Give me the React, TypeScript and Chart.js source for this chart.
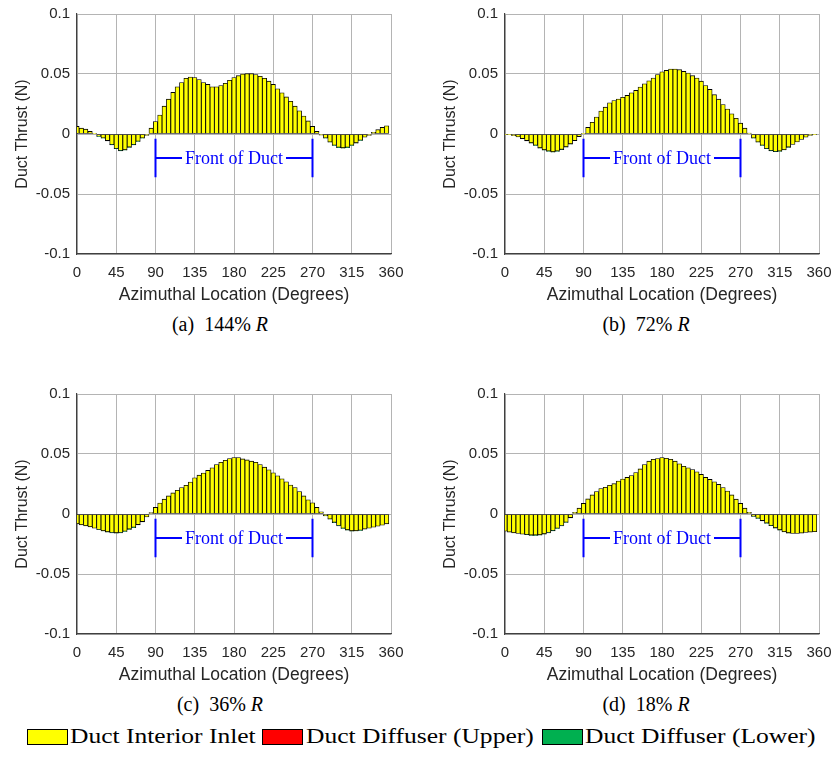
import React, { useEffect, useRef } from 'react';
import { Chart, registerables } from 'chart.js';

Chart.register(...registerables);

// ---------------- data ----------------
const ANGLES = [
  0, 5, 10, 15, 20, 25, 30, 35, 40, 45, 50, 55, 60, 65, 70, 75, 80, 85,
  90, 95, 100, 105, 110, 115, 120, 125, 130, 135, 140, 145, 150, 155, 160, 165, 170, 175,
  180, 185, 190, 195, 200, 205, 210, 215, 220, 225, 230, 235, 240, 245, 250, 255, 260, 265,
  270, 275, 280, 285, 290, 295, 300, 305, 310, 315, 320, 325, 330, 335, 340, 345, 350, 355,
];

const X_TICKS = [0, 45, 90, 135, 180, 225, 270, 315, 360];
const Y_TICKS = [-0.1, -0.05, 0, 0.05, 0.1];

// (a) 144% R
const INLET_144 = [
  0.0063, 0.0049, 0.004, 0.0022, 0.0005, -0.0019, -0.0033, -0.0055, -0.0087, -0.012, -0.0137, -0.0131, -0.0109, -0.0087, -0.006, -0.0033, -0.0011, 0.0049,
  0.0104, 0.0158, 0.0232, 0.029, 0.0347, 0.0393, 0.0429, 0.0464, 0.0475, 0.047, 0.0454, 0.0429, 0.0413, 0.0393, 0.0393, 0.0404, 0.0423, 0.0448,
  0.047, 0.0486, 0.05, 0.0503, 0.0503, 0.0495, 0.0481, 0.0464, 0.044, 0.0413, 0.0377, 0.0344, 0.0309, 0.0273, 0.0232, 0.0194, 0.015, 0.0109,
  0.0063, 0.0022, -0.001, -0.0033, -0.0066, -0.0093, -0.011, -0.0115, -0.011, -0.0093, -0.0074, -0.0052, -0.0027, -0.0011, 0.0014, 0.0036, 0.0055, 0.0068,
];

// (b) 72% R
const INLET_72 = [
  -0.0003, -0.0005, -0.0014, -0.0025, -0.0038, -0.0055, -0.0074, -0.0093, -0.0115, -0.0131, -0.0142, -0.0148, -0.0142, -0.0128, -0.0107, -0.0082, -0.0055, -0.0022,
  0.0003, 0.0055, 0.0098, 0.0142, 0.0191, 0.0224, 0.026, 0.0279, 0.0292, 0.0306, 0.0322, 0.0344, 0.0363, 0.0391, 0.0418, 0.0443, 0.0467, 0.0495,
  0.0519, 0.053, 0.0541, 0.0541, 0.0536, 0.0522, 0.0508, 0.0486, 0.0467, 0.044, 0.0404, 0.0372, 0.0328, 0.029, 0.0246, 0.0208, 0.0169, 0.0131,
  0.009, 0.0049, 0.0008, -0.0033, -0.0066, -0.0093, -0.012, -0.0137, -0.0145, -0.0142, -0.0131, -0.0109, -0.0087, -0.0066, -0.0046, -0.0027, -0.0011, -0.0003,
];

// (c) 36% R
const INLET_36 = [
  -0.0082, -0.009, -0.0099, -0.0107, -0.0118, -0.0129, -0.014, -0.0148, -0.0154, -0.0157, -0.0154, -0.0143, -0.0126, -0.011, -0.0088, -0.0063, -0.0025, 0.0012,
  0.0055, 0.0091, 0.0124, 0.0151, 0.0176, 0.0198, 0.022, 0.0239, 0.0266, 0.0302, 0.0324, 0.0341, 0.0363, 0.0385, 0.0412, 0.0431, 0.0448, 0.0462,
  0.047, 0.047, 0.0459, 0.0451, 0.044, 0.0431, 0.0412, 0.039, 0.0368, 0.0343, 0.0319, 0.0294, 0.0269, 0.0242, 0.022, 0.0187, 0.0151, 0.0118,
  0.0093, 0.0055, 0.0019, -0.0014, -0.0041, -0.0069, -0.0096, -0.0118, -0.0132, -0.014, -0.014, -0.0135, -0.0126, -0.0118, -0.011, -0.0102, -0.0093, -0.0082,
];

// (d) 18% R
const INLET_18 = [
  -0.0143, -0.0151, -0.0157, -0.0162, -0.0168, -0.017, -0.0176, -0.0176, -0.0173, -0.0165, -0.0154, -0.0137, -0.0118, -0.0096, -0.0068, -0.003, 0.0014, 0.0049,
  0.0088, 0.0126, 0.0159, 0.0187, 0.0212, 0.0223, 0.0239, 0.0253, 0.0275, 0.0291, 0.0305, 0.0321, 0.0346, 0.0376, 0.0412, 0.044, 0.0456, 0.0462,
  0.047, 0.0464, 0.0456, 0.044, 0.0418, 0.0398, 0.0385, 0.0371, 0.0352, 0.033, 0.0305, 0.0288, 0.0269, 0.0247, 0.022, 0.0192, 0.0159, 0.0124,
  0.0088, 0.0049, 0.0014, -0.0018, -0.0035, -0.0055, -0.0075, -0.0095, -0.0115, -0.0132, -0.0148, -0.0157, -0.0162, -0.0162, -0.0159, -0.0154, -0.0151, -0.0148,
];

// diffuser contributions (barely visible in the figure)
const DIFFUSER_UPPER = [
  0, 0, 0, 0, 0, 0, 0, 0, 0, 0, 0, 0, 0, 0, 0, 0, 0, 0,
  0, 0, 0, 0, 0, 0, 0, 0, 0, 0, 0, 0, 0, 0, 0, 0, 0, 0,
  0, 0, 0, 0, 0, 0, 0, 0, 0, 0, 0, 0, 0, 0, 0, 0, 0, 0,
  0, 0, 0, 0, 0, 0, 0, 0, 0, 0, 0, 0, 0, 0, 0, 0, 0, 0,
];
const DIFFUSER_LOWER = [
  0, 0, 0, 0, 0, -0.0002, -0.0002, -0.0003, -0.0003, -0.0003, -0.0003, -0.0003, -0.0003, -0.0003, -0.0002, -0.0002, 0, 0,
  0, 0, 0, 0, 0, 0, 0, 0, 0, 0, 0, 0, 0, 0, 0, 0, 0, 0,
  0, 0, 0, 0, 0, 0, 0, 0, 0, 0, 0, 0, 0, 0, 0, 0, 0, 0,
  0, 0, 0, -0.0002, -0.0002, -0.0003, -0.0003, -0.0003, -0.0003, -0.0003, -0.0002, -0.0002, 0, 0, 0, 0, 0, 0,
];

const SERIES_LABELS = ['Duct Interior Inlet', 'Duct Diffuser (Upper)', 'Duct Diffuser (Lower)'];
const SERIES_COLORS = ['#ffff00', '#ff0000', '#00b050'];

const FRONT_LABEL = 'Front of Duct';
const FRONT_START = 90;
const FRONT_END = 270;
const FRONT_Y_TOP = -0.004;
const FRONT_Y_BOTTOM = -0.036;
const FRONT_Y_MID = -0.02;

const X_TITLE = 'Azimuthal Location (Degrees)';
const Y_TITLE = 'Duct Thrust (N)';

// ---------------- styling ----------------
const SANS = '"Liberation Sans", Arial, Helvetica, sans-serif';
const SERIF = '"Liberation Serif", "Times New Roman", Times, serif';
const AXIS_TEXT = '#262626';
const GRID = '#b4b4b4';

const frontPlugin = {
  id: 'frontOfDuct',
  afterDatasetsDraw(chart: any) {
    const { ctx, scales } = chart;
    const xs = scales.x;
    const ys = scales.y;
    const x1 = xs.getPixelForValue(FRONT_START);
    const x2 = xs.getPixelForValue(FRONT_END);
    const yt = ys.getPixelForValue(FRONT_Y_TOP);
    const yb = ys.getPixelForValue(FRONT_Y_BOTTOM);
    const ym = ys.getPixelForValue(FRONT_Y_MID);
    ctx.save();
    ctx.strokeStyle = '#0000ff';
    ctx.fillStyle = '#0000ff';
    ctx.lineWidth = 2;
    ctx.font = `18px ${SERIF}`;
    const tw = ctx.measureText(FRONT_LABEL).width;
    const cx = (x1 + x2) / 2;
    ctx.beginPath();
    ctx.moveTo(x1, yt);
    ctx.lineTo(x1, yb);
    ctx.moveTo(x2, yt);
    ctx.lineTo(x2, yb);
    ctx.moveTo(x1, ym);
    ctx.lineTo(cx - tw / 2 - 3, ym);
    ctx.moveTo(cx + tw / 2 + 3, ym);
    ctx.lineTo(x2, ym);
    ctx.stroke();
    ctx.textAlign = 'center';
    ctx.textBaseline = 'middle';
    ctx.fillText(FRONT_LABEL, cx, ym + 1);
    ctx.restore();
  },
};

type PanelProps = {
  inlet: number[];
  left: number;
  top: number;
  width: number;
  height: number;
  rightPad: number;
};

function Panel({ inlet, left, top, width, height, rightPad }: PanelProps) {
  const ref = useRef<HTMLCanvasElement | null>(null);
  useEffect(() => {
    if (!ref.current) return;
    const seriesValues = [inlet, DIFFUSER_UPPER, DIFFUSER_LOWER];
    const chart = new Chart(ref.current, {
      type: 'bar',
      data: {
        datasets: seriesValues.map((vals, si) => ({
          label: SERIES_LABELS[si],
          data: ANGLES.map((a, i) => ({ x: a, y: vals[i] })),
          backgroundColor: SERIES_COLORS[si],
          borderColor: '#000000',
          borderWidth: 0.85,
          borderSkipped: false,
          barPercentage: 1,
          categoryPercentage: 1,
        })),
      },
      options: {
        responsive: false,
        animation: false,
        events: [],
        layout: { padding: { left: 0, right: rightPad, top: 13, bottom: 0 } },
        plugins: { legend: { display: false }, tooltip: { enabled: false } },
        scales: {
          x: {
            type: 'linear',
            min: 0,
            max: 360,
            offset: false,
            stacked: true,
            afterBuildTicks: (s: any) => {
              s.ticks = X_TICKS.map((v) => ({ value: v }));
            },
            ticks: {
              color: AXIS_TEXT,
              font: { family: SANS, size: 15 },
              padding: 10,
              maxRotation: 0,
              autoSkip: false,
              callback: (v: any) => String(v),
            },
            grid: { color: GRID, offset: false, drawTicks: false, lineWidth: 1 },
            border: { color: '#404040', width: 1.2 },
            title: {
              display: true,
              text: X_TITLE,
              color: AXIS_TEXT,
              font: { family: SANS, size: 17.5 },
              padding: { top: 0, bottom: 0.5 },
            },
            afterFit: (s: any) => {
              s.height = 52;
              s.paddingLeft = 0;
              s.paddingRight = 0;
            },
          },
          y: {
            min: -0.1,
            max: 0.1,
            stacked: true,
            afterBuildTicks: (s: any) => {
              s.ticks = Y_TICKS.map((v) => ({ value: v }));
            },
            ticks: {
              color: AXIS_TEXT,
              font: { family: SANS, size: 15 },
              padding: 7,
              callback: (v: any) => String(Number(Number(v).toFixed(3))),
            },
            grid: { color: GRID, drawTicks: false, lineWidth: 1 },
            border: { color: '#404040', width: 1.2 },
            title: {
              display: true,
              text: Y_TITLE,
              color: AXIS_TEXT,
              font: { family: SANS, size: 16 },
              padding: { top: 13, bottom: 0 },
            },
            afterFit: (s: any) => {
              s.width = 77;
              s.paddingTop = 0;
              s.paddingBottom = 0;
            },
          },
        },
      } as any,
      plugins: [frontPlugin],
    });
    return () => chart.destroy();
  }, [inlet]);
  return (
    <canvas
      ref={ref}
      width={width}
      height={height}
      style={{ position: 'absolute', left, top, width, height }}
    />
  );
}

function Caption({ letter, pct, cx, baseline }: { letter: string; pct: string; cx: number; baseline: number }) {
  return (
    <div
      style={{
        position: 'absolute',
        left: cx - 100,
        width: 200,
        top: baseline - 16.7,
        textAlign: 'center',
        fontFamily: SERIF,
        fontSize: 20,
        lineHeight: '20px',
        color: '#000',
        whiteSpace: 'nowrap',
      }}
    >
      ({letter})&nbsp;&nbsp;{pct}%&nbsp;<i>R</i>
    </div>
  );
}

const LEGEND_BOXES = [27, 262, 542];
const LEGEND_TEXTS = [70, 306, 585];

export default function App() {
  return (
    <div style={{ position: 'absolute', left: 0, top: 0, width: 833, height: 760, background: '#fff', overflow: 'hidden' }}>
      <Panel inlet={INLET_144} left={0} top={1} width={416} height={305} rightPad={25} />
      <Panel inlet={INLET_72} left={428} top={1} width={405} height={305} rightPad={14} />
      <Panel inlet={INLET_36} left={0} top={381} width={416} height={305} rightPad={25} />
      <Panel inlet={INLET_18} left={428} top={381} width={405} height={305} rightPad={14} />
      <Caption letter="a" pct="144" cx={220} baseline={331} />
      <Caption letter="b" pct="72" cx={646} baseline={331} />
      <Caption letter="c" pct="36" cx={220} baseline={711} />
      <Caption letter="d" pct="18" cx={646} baseline={711} />
      {SERIES_LABELS.map((lab, i) => (
        <React.Fragment key={lab}>
          <div
            style={{
              position: 'absolute',
              left: LEGEND_BOXES[i],
              top: 729,
              width: 39,
              height: 14,
              background: SERIES_COLORS[i],
              border: '1px solid #000',
            }}
          />
          <div
            style={{
              position: 'absolute',
              left: LEGEND_TEXTS[i],
              top: 725,
              fontFamily: SERIF,
              fontSize: 22,
              lineHeight: '22px',
              whiteSpace: 'nowrap',
              transform: 'scaleX(1.16)',
              transformOrigin: 'left top',
              color: '#000',
            }}
          >
            {lab}
          </div>
        </React.Fragment>
      ))}
    </div>
  );
}
